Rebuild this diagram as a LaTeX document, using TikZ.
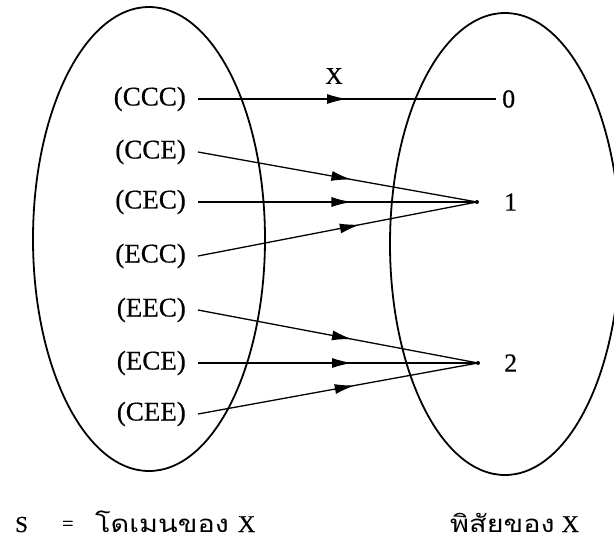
\documentclass[tikz,border=0pt]{standalone}
\usepackage{fontspec}
\setmainfont{Liberation Serif}[FakeBold=0.5]
\newfontfamily\thaifont[Script=Thai, FakeStretch=1.2]{Loma}
\usetikzlibrary{decorations.markings,arrows.meta}
\tikzset{
  setline/.style={line width=1.8pt},
  elem/.style={font=\fontsize{27}{27}\selectfont, inner sep=0pt, anchor=east},
  val/.style={font=\fontsize{26}{26}\selectfont, inner sep=0pt, anchor=west},
  captext/.style={font=\fontsize{23}{23}\selectfont, inner sep=0pt, anchor=base west},
  maparrow/.style={line width=1.3pt, postaction={decorate},
    decoration={markings, mark=at position #1 with {\arrow{Latex[length=20pt,width=10pt]}}}},
}
\begin{document}
\begin{tikzpicture}[x=1pt,y=-1pt]
\useasboundingbox (0,0) rectangle (614,542);
\begin{scope}
\clip (0,0) rectangle (614,542);
\draw[setline] (149,239) ellipse [x radius=116, y radius=232];
\draw[setline] (505,244) ellipse [x radius=115, y radius=231];
\end{scope}

\node[elem] (ccc) at (186,99) {(CCC)};
\node[elem] (cce) at (186,152) {(CCE)};
\node[elem] (cec) at (186,202) {(CEC)};
\node[elem] (ecc) at (186,256) {(ECC)};
\node[elem] (eec) at (186,310) {(EEC)};
\node[elem] (ece) at (186,363) {(ECE)};
\node[elem] (cee) at (186,414) {(CEE)};

\node[val] (v0) at (502,99) {0};
\node[val] (v1) at (504,202) {1};
\node[val] (v2) at (504,363) {2};

\coordinate (p1) at (477,202);
\coordinate (p2) at (478,363);

\node[font=\fontsize{24}{24}\selectfont, inner sep=0pt] (xl) at (334,76) {X};

\draw[maparrow=0.5] ([xshift=12pt]ccc.east) -- ([xshift=-6pt]v0.west);
\draw[maparrow=0.55] ([xshift=12pt]cce.east) -- (p1);
\draw[maparrow=0.55] ([xshift=12pt]cec.east) -- (p1);
\draw[maparrow=0.58] ([xshift=12pt]ecc.east) -- (p1);
\draw[maparrow=0.55] ([xshift=12pt]eec.east) -- (p2);
\draw[maparrow=0.55] ([xshift=12pt]ece.east) -- (p2);
\draw[maparrow=0.56] ([xshift=12pt]cee.east) -- (p2);
\fill (p1) circle (2);
\fill (p2) circle (2);

\node[captext] (s) at (15,532) {S};
\node[captext, font=\fontsize{20}{20}\selectfont] (eq) at (62,530) {=};
\node[captext] (dom) at (95,532) {{\thaifont\fontsize{24}{24}\selectfont โดเมนของ}\hspace{9pt}{\fontsize{24}{24}\selectfont X}};
\node[captext] (rng) at (450,532) {{\thaifont\fontsize{24}{24}\selectfont พิสัยของ}\hspace{7pt}{\fontsize{24}{24}\selectfont X}};
\end{tikzpicture}
\end{document}
